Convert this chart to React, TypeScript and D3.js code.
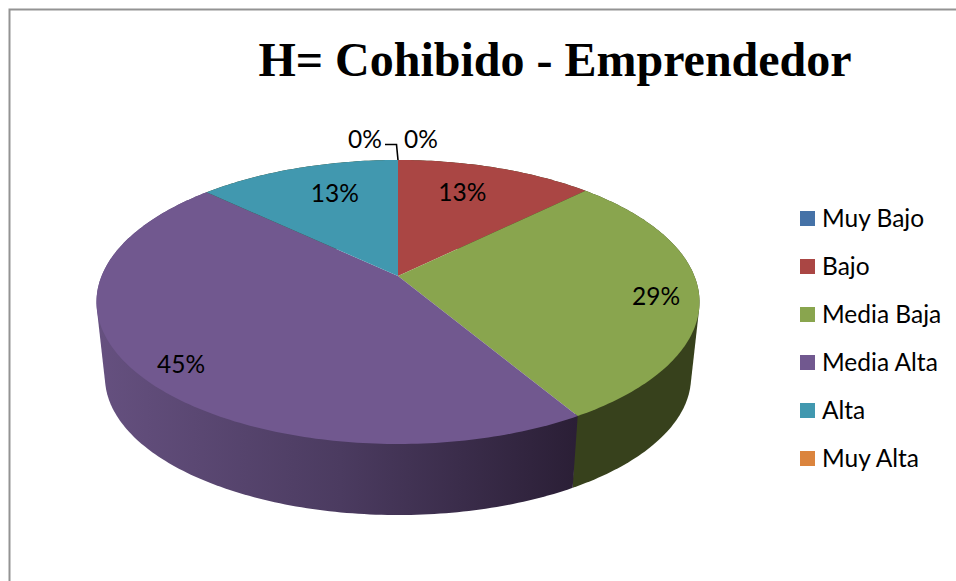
import React from "react";
import * as d3 from "d3";

const title = "H= Cohibido - Emprendedor";
const categories = ["Muy Bajo", "Bajo", "Media Baja", "Media Alta", "Alta", "Muy Alta"];
const shares = [0, 12.6, 28.7, 45.4, 12.9, 0];
const colors = ["#4572a7", "#aa4644", "#89a54e", "#71588f", "#4198af", "#db843d"];
const greenSide = "#37411c";

const width = 956;
const height = 581;

// the pie is tilted, so the apex sits above the middle of the ellipse
const cx = 398;
const cy = 302;
const radiusY = 142;
const apexShift = -26;
const k = (2 * -apexShift) / (2 * radiusY);
const radiusX = 301.5 * Math.sqrt(1 - k * k);

// bottom rim is a little smaller and further away
const baseScale = 0.972;
const baseDrop = 75;

const project = (angle: number, r = 1, base = false): [number, number] => {
  const X = r * Math.sin(angle);
  const Y = -r * Math.cos(angle);
  const w = 1 - k * Y;
  const x = (radiusX * X) / w;
  const y = (radiusY * Y + apexShift) / w;
  return base
    ? [cx + x * baseScale, cy + y * baseScale + baseDrop]
    : [cx + x, cy + y];
};

const sweep = (a0: number, a1: number) => {
  const n = Math.max(2, Math.ceil((a1 - a0) * 60));
  return d3.range(n + 1).map((i) => a0 + ((a1 - a0) * i) / n);
};

const line = d3.line();

// label placement around the pie: radius plus a nudge, same order as categories
const labelRadius = [1.1, 0.75, 0.87, 0.85, 0.75, 1.1];
const labelNudge = [
  [23, -11],
  [-12, 1],
  [-3, 5],
  [1, 8],
  [15, 1],
  [-33, -11],
];

export default function App() {
  const arcs = d3
    .pie<number>()
    .sort(null)
    .value((d) => d)(shares);

  const legendY = d3
    .scalePoint<string>()
    .domain(categories)
    .range([218.5, 458.5]);

  const sides = arcs.filter((d) => d.endAngle > d.startAngle);
  const lastTop = project(arcs[5].startAngle);
  const zeroLabel = project(arcs[5].startAngle, labelRadius[5]);

  return (
    <svg
      width={width}
      height={height}
      viewBox={`0 0 ${width} ${height}`}
      style={{ position: "absolute", left: 0, top: 0, background: "#fff" }}
    >
      <defs>
        <linearGradient id="side-3" gradientUnits="userSpaceOnUse" x1={100} x2={581} y1={0} y2={0}>
          <stop offset="0" stopColor="#65507f" />
          <stop offset="0.5" stopColor="#4b3b60" />
          <stop offset="1" stopColor="#2a1e35" />
        </linearGradient>
      </defs>

      <path d={`M9.5 ${height}V9.5H${width}`} fill="none" stroke="#939393" strokeWidth={2} />

      <text
        x={555}
        y={76}
        textAnchor="middle"
        fontFamily="'Liberation Serif', serif"
        fontWeight="bold"
        fontSize={48}
        fill="#000"
      >
        {title}
      </text>

      {sides.map((d) => {
        const angles = sweep(d.startAngle, d.endAngle);
        const hull = d3.polygonHull([
          ...angles.map((a) => project(a)),
          ...angles.map((a) => project(a, 1, true)),
        ]);
        return (
          <path
            key={`side-${d.index}`}
            d={line(hull!) + "Z"}
            fill={d.index === 3 ? "url(#side-3)" : greenSide}
          />
        );
      })}

      {sides.map((d) => {
        const rim = sweep(d.startAngle, d.endAngle).map((a) => project(a));
        return (
          <path
            key={`top-${d.index}`}
            d={line([project(0, 0), ...rim]) + "Z"}
            fill={colors[d.index]}
          />
        );
      })}

      <path
        d={`M${lastTop[0] - 13} ${lastTop[1] - 15.5}h11.5l1.5 15.5`}
        fill="none"
        stroke="#000"
        strokeWidth={1.6}
      />

      {arcs.map((d, i) => {
        const mid = (d.startAngle + d.endAngle) / 2;
        const [x, y] = project(mid, labelRadius[i]);
        return (
          <text
            key={`label-${i}`}
            x={x + labelNudge[i][0]}
            y={(i === 0 || i === 5 ? zeroLabel[1] : y) + labelNudge[i][1]}
            dy="0.35em"
            textAnchor="middle"
            fontFamily="Lato, sans-serif"
            fontSize={24.5}
            fill="#000"
          >
            {Math.round(d.value)}%
          </text>
        );
      })}

      {categories.map((c, i) => (
        <g key={c} transform={`translate(800,${legendY(c)})`}>
          <rect x={0} y={-7.5} width={15} height={15} fill={colors[i]} />
          <text x={22} dy="0.35em" fontFamily="Lato, sans-serif" fontSize={24.5} fill="#000">
            {c}
          </text>
        </g>
      ))}
    </svg>
  );
}
